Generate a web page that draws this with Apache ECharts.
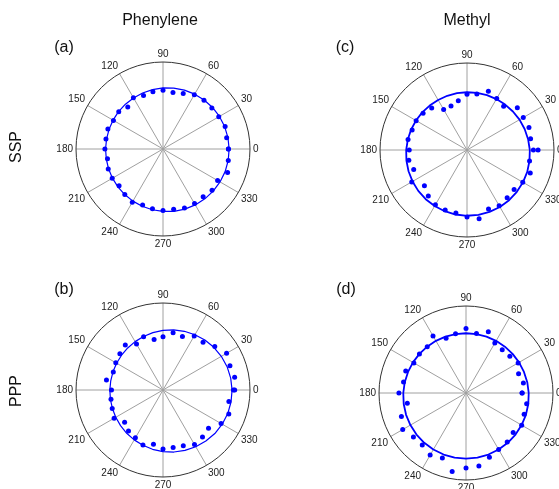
<!DOCTYPE html>
<html><head><meta charset="utf-8">
<script src="https://cdn.jsdelivr.net/npm/echarts@6/dist/echarts.min.js"></script>
<style>html,body{margin:0;padding:0;background:#fff}#c{width:559px;height:489px}</style>
</head><body><div id="c"></div>
<script>
const angles = [0,10,20,30,40,50,60,70,80,90,100,110,120,130,140,150,160,170,180,190,200,210,220,230,240,250,260,270,280,290,300,310,320,330,340,350,360];
const colTitles = ['Phenylene','Methyl'];
const rowTitles = ['SSP','PPP'];
const panelTags = ['(a)','(b)','(c)','(d)'];
// measured points (radius, outer circle = 100)
const ptsA = [75.2,74.3,76.0,74.0,73.3,73.3,72.0,67.9,65.9,67.6,66.8,65.5,68.1,63.0,66.4,65.8,67.4,66.6,66.8,64.8,67.0,67.4,65.9,68.3,70.6,68.5,69.8,70.6,70.4,72.1,72.5,71.8,73.6,72.5,79.0,76.2,75.2];
const ptsB = [80.9,83.6,81.9,84.4,77.7,71.6,71.7,65.3,66.8,61.1,59.0,65.2,60.9,67.4,64.7,62.7,60.8,66.0,59.2,60.7,62.1,64.9,57.6,61.7,63.5,67.4,63.2,67.8,67.1,68.2,72.4,70.6,68.3,77.1,80.5,76.9,82.4];
const ptsC = [76.3,74.2,75.8,74.7,75.5,65.5,68.3,71.8,65.3,64.1,57.6,53.7,53.7,63.1,65.9,67.5,67.1,68.8,66.4,67.9,65.2,73.3,63.9,69.2,72.6,73.3,73.6,77.1,80.2,72.3,73.9,71.8,70.7,74.0,77.4,73.0,81.7];
const ptsD = [64.5,67.0,64.3,69.2,65.8,64.8,66.3,75.0,69.3,74.1,69.2,66.9,75.8,69.3,69.9,69.2,73.7,72.9,77.1,68.5,79.0,84.0,78.9,78.2,82.4,79.4,91.6,86.3,85.3,78.7,75.0,73.7,70.8,73.9,71.1,70.8,64.5];
// fitted curves
const fitA = [76.0,75.8,75.4,74.9,74.3,73.6,72.8,72.0,71.1,70.2,69.3,68.5,67.8,67.2,66.7,66.3,66.0,65.9,66.0,66.2,66.6,67.1,67.7,68.4,69.2,70.0,70.9,71.8,72.7,73.5,74.2,74.8,75.3,75.7,76.0,76.1,76.0];
const fitB = [79.4,79.0,78.4,77.4,76.3,74.9,73.4,71.8,70.1,68.5,66.9,65.5,64.2,63.1,62.2,61.6,61.2,61.0,61.1,61.4,61.9,62.7,63.7,64.9,66.2,67.6,69.2,70.8,72.4,73.9,75.3,76.6,77.8,78.6,79.2,79.4,79.4];
const fitC = [72.2,71.3,70.5,69.7,68.9,68.2,67.6,67.1,66.7,66.4,66.3,66.3,66.4,66.7,67.2,67.7,68.4,69.1,69.9,70.7,71.5,72.3,73.1,73.8,74.4,74.9,75.3,75.6,75.7,75.7,75.6,75.3,74.8,74.3,73.7,72.9,72.2];
const fitD = [72.1,71.5,70.9,70.4,69.9,69.5,69.2,68.9,68.8,68.7,68.8,68.9,69.2,69.5,69.9,70.4,70.9,71.5,72.1,72.7,73.3,73.8,74.3,74.7,75.0,75.3,75.4,75.5,75.4,75.3,75.0,74.7,74.3,73.8,73.3,72.7,72.1];

const FONT = '"Liberation Sans", Arial, sans-serif';
const panels = [
  {center:[163,149], pts:ptsA, fit:fitA, lw:1.2},
  {center:[163,390], pts:ptsB, fit:fitB, lw:1.2},
  {center:[467,150], pts:ptsC, fit:fitC, lw:1.8},
  {center:[466,393], pts:ptsD, fit:fitD, lw:1.8}
];
const polar = [], angleAxis = [], radiusAxis = [], series = [];
panels.forEach((p, i) => {
  polar.push({center: p.center, radius: 87});
  angleAxis.push({
    polarIndex: i, type: 'value', min: 0, max: 360, interval: 30,
    startAngle: 0, clockwise: false,
    axisLine: {show: true, lineStyle: {color: '#333', width: 1}},
    axisTick: {show: false},
    axisLabel: {show: true, margin: 3, color: '#222', fontSize: 10, fontFamily: FONT,
      formatter: v => (v === 360 ? '' : String(v))},
    splitLine: {show: true, lineStyle: {color: '#a0a0a0', width: 1}}
  });
  radiusAxis.push({
    polarIndex: i, type: 'value', min: 0, max: 100,
    axisLine: {show: false}, axisTick: {show: false}, axisLabel: {show: false},
    splitLine: {show: false}
  });
  series.push({
    type: 'line', coordinateSystem: 'polar', polarIndex: i,
    data: angles.map((a, k) => [p.fit[k], a]),
    showSymbol: false, smooth: false,
    lineStyle: {color: '#0000ff', width: p.lw}, silent: true, z: 2
  });
  series.push({
    type: 'scatter', coordinateSystem: 'polar', polarIndex: i,
    data: angles.map((a, k) => [p.pts[k], a]),
    symbol: 'circle', symbolSize: 5,
    itemStyle: {color: '#0000ff', opacity: 1}, z: 3
  });
});

const txt = (x, y, text, size, rot) => ({
  type: 'text', x: x, y: y, rotation: rot || 0,
  style: {text: text, x: 0, y: 0, align: 'center', verticalAlign: 'middle',
    font: size + 'px ' + FONT, fill: '#111'}
});
const graphic = [
  txt(160, 21, colTitles[0], 16),
  txt(467, 21, colTitles[1], 16),
  txt(17, 147, rowTitles[0], 16, Math.PI / 2),
  txt(17, 391, rowTitles[1], 16, Math.PI / 2),
  txt(64, 48, panelTags[0], 16),
  txt(64, 290, panelTags[1], 16),
  txt(345, 48, panelTags[2], 16),
  txt(346, 290, panelTags[3], 16)
];

const chart = echarts.init(document.getElementById('c'), null, {renderer: 'canvas'});
chart.setOption({
  animation: false,
  backgroundColor: '#fff',
  polar, angleAxis, radiusAxis, series, graphic
});
</script></body></html>
